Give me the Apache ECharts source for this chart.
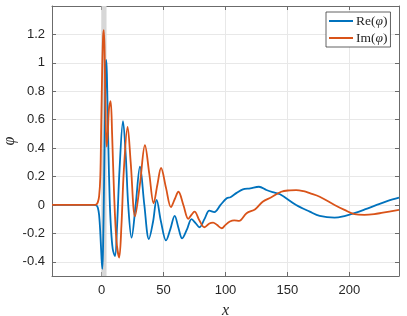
<!DOCTYPE html>
<html>
<head>
<meta charset="utf-8">
<script src="https://cdn.jsdelivr.net/npm/echarts@6/dist/echarts.min.js"></script>
<style>html,body{margin:0;padding:0;background:#fff}#c{width:407px;height:316px}</style>
</head>
<body>
<div id="c"></div>
<script>
var reX = [-40, -10, -6, -4, -3, -2, -1, 0, 0.6, 1.2, 2, 2.8, 3.4, 3.8, 4.3, 4.9, 5.5, 6.5, 7.5, 9, 10.8, 12.5, 14.5, 17.3, 19.5, 21.5, 24.2, 27.5, 31, 34.5, 38.2, 41.5, 44.4, 48, 52, 55.5, 59, 62, 65, 69, 72.6, 76, 79, 83, 87, 91, 96, 101, 104, 109, 114, 120, 127, 133, 138, 144, 157, 168, 176, 188, 196, 204, 213, 222, 231, 240];
var reY = [0, 0, 0, -0.005, -0.02, -0.07, -0.2, -0.38, -0.45, -0.3, 0.15, 0.7, 0.97, 1.02, 0.92, 0.65, 0.4, 0.05, -0.15, -0.31, -0.36, -0.15, 0.25, 0.59, 0.35, 0.0, -0.23, 0.0, 0.27, 0.0, -0.24, -0.12, 0.035, -0.12, -0.25, -0.17, -0.077, -0.16, -0.235, -0.17, -0.10, -0.13, -0.157, -0.1, -0.04, -0.05, 0.0, 0.047, 0.054, 0.085, 0.11, 0.117, 0.128, 0.105, 0.09, 0.075, 0.0, -0.047, -0.077, -0.089, -0.078, -0.058, -0.03, 0.0, 0.028, 0.051];
var imX = [-40, -10, -6, -4, -3, -2, -1, -0.3, 0.5, 1.2, 1.8, 2.5, 3.3, 4.1, 5, 6, 7.3, 8.5, 10, 12, 14.2, 16, 18, 21, 23.5, 27, 31, 35, 38.5, 42, 45, 48, 52, 56, 59, 62, 66, 70, 72.5, 75, 79, 83, 87, 90, 93, 97, 100, 103.5, 107, 111, 117, 124, 130, 137, 145, 152, 157, 163, 168, 176, 188, 196, 204, 212, 220, 227, 240];
var imY = [0, 0, 0, 0.005, 0.02, 0.06, 0.2, 0.55, 0.95, 1.18, 1.23, 1.05, 0.6, 0.41, 0.5, 0.68, 0.73, 0.5, 0.1, -0.25, -0.37, -0.15, 0.25, 0.55, 0.3, -0.08, 0.15, 0.42, 0.22, 0.012, 0.14, 0.26, 0.12, -0.016, 0.04, 0.093, 0.0, -0.098, -0.07, -0.047, -0.11, -0.157, -0.13, -0.124, -0.14, -0.164, -0.14, -0.117, -0.108, -0.112, -0.058, -0.03, 0.023, 0.054, 0.093, 0.103, 0.105, 0.097, 0.083, 0.058, 0.0, -0.035, -0.065, -0.07, -0.065, -0.054, -0.035];
var xTicks = [0, 50, 100, 150, 200];
var yTicks = [-0.4, -0.2, 0, 0.2, 0.4, 0.6, 0.8, 1, 1.2];
var yTickLabels = ['-0.4', '-0.2', '0', '0.2', '0.4', '0.6', '0.8', '1', '1.2'];
var band = [0, 4];
var seriesNames = ['Re', 'Im'];

function pairs(xs, ys) { return xs.map(function (x, i) { return [x, ys[i]]; }); }

var axisColor = '#6b6b6b';
var textColor = '#262626';
var chart = echarts.init(document.getElementById('c'), null, {renderer: 'canvas'});
chart.setOption({
  animation: false,
  backgroundColor: '#fff',
  grid: {left: 52, right: 8, top: 6, bottom: 40, containLabel: false, outerBoundsMode: 'none'},
  legend: {
    data: seriesNames,
    orient: 'vertical',
    left: 326, top: 12,
    width: 67,
    itemWidth: 24, itemHeight: 2,
    itemGap: 3,
    icon: 'rect',
    padding: [2, 3, 2, 3],
    borderColor: '#3a3a3a', borderWidth: 0.8,
    backgroundColor: '#fff',
    formatter: function (n) { return '{r|' + n + '(}{i|φ}{r|)}'; },
    textStyle: {
      color: textColor,
      padding: [0, 0, 0, -2],
      rich: {
        r: {fontFamily: 'Liberation Serif', fontSize: 13.5, color: textColor},
        i: {fontFamily: 'Liberation Serif', fontStyle: 'italic', fontSize: 13.5, color: textColor}
      }
    }
  },
  xAxis: [{
    type: 'value', min: -40, max: 240, position: 'bottom',
    name: 'x', nameLocation: 'middle', nameGap: 27, nameMoveOverlap: false,
    nameTextStyle: {fontFamily: 'Liberation Serif', fontStyle: 'italic', fontSize: 16, color: textColor},
    axisLine: {show: true, onZero: false, lineStyle: {color: axisColor, width: 1}},
    axisTick: {show: true, inside: true, length: 4, customValues: xTicks, lineStyle: {color: axisColor}},
    axisLabel: {customValues: xTicks, color: textColor, fontFamily: 'Liberation Sans', fontSize: 13, margin: 8},
    splitLine: {show: true, lineStyle: {color: '#e8e8e8', width: 1}}
  }, {
    type: 'value', min: -40, max: 240, position: 'top',
    axisLine: {show: true, onZero: false, lineStyle: {color: axisColor, width: 1}},
    axisTick: {show: true, inside: true, length: 4, customValues: xTicks, lineStyle: {color: axisColor}},
    axisLabel: {show: false},
    splitLine: {show: false}
  }],
  yAxis: [{
    type: 'value', min: -0.5, max: 1.4, position: 'left',
    name: 'φ', nameLocation: 'middle', nameGap: 34, nameMoveOverlap: false,
    nameTextStyle: {fontFamily: 'Liberation Serif', fontStyle: 'italic', fontSize: 16, color: textColor},
    axisLine: {show: true, onZero: false, lineStyle: {color: axisColor, width: 1}},
    axisTick: {show: true, inside: true, length: 4, customValues: yTicks, lineStyle: {color: axisColor}},
    axisLabel: {customValues: yTicks, color: textColor, fontFamily: 'Liberation Sans', fontSize: 13, margin: 7,
      formatter: function (v) { var i = yTicks.findIndex(function (t) { return Math.abs(t - v) < 1e-6; }); return i >= 0 ? yTickLabels[i] : ''; }},
    splitLine: {show: true, lineStyle: {color: '#e8e8e8', width: 1}}
  }, {
    type: 'value', min: -0.5, max: 1.4, position: 'right',
    axisLine: {show: true, onZero: false, lineStyle: {color: axisColor, width: 1}},
    axisTick: {show: true, inside: true, length: 4, customValues: yTicks, lineStyle: {color: axisColor}},
    axisLabel: {show: false},
    splitLine: {show: false}
  }],
  series: [{
    name: 'Re', type: 'line', data: pairs(reX, reY),
    showSymbol: false, smooth: 0.35, color: '#0072BD',
    lineStyle: {width: 1.8, color: '#0072BD'},
    z: 3,
    markArea: {
      silent: true,
      itemStyle: {color: '#d7d7d7'},
      data: [[{xAxis: band[0]}, {xAxis: band[1]}]]
    }
  }, {
    name: 'Im', type: 'line', data: pairs(imX, imY),
    showSymbol: false, smooth: 0.35, color: '#D95319',
    lineStyle: {width: 1.8, color: '#D95319'},
    z: 4
  }]
});
</script>
</body>
</html>
